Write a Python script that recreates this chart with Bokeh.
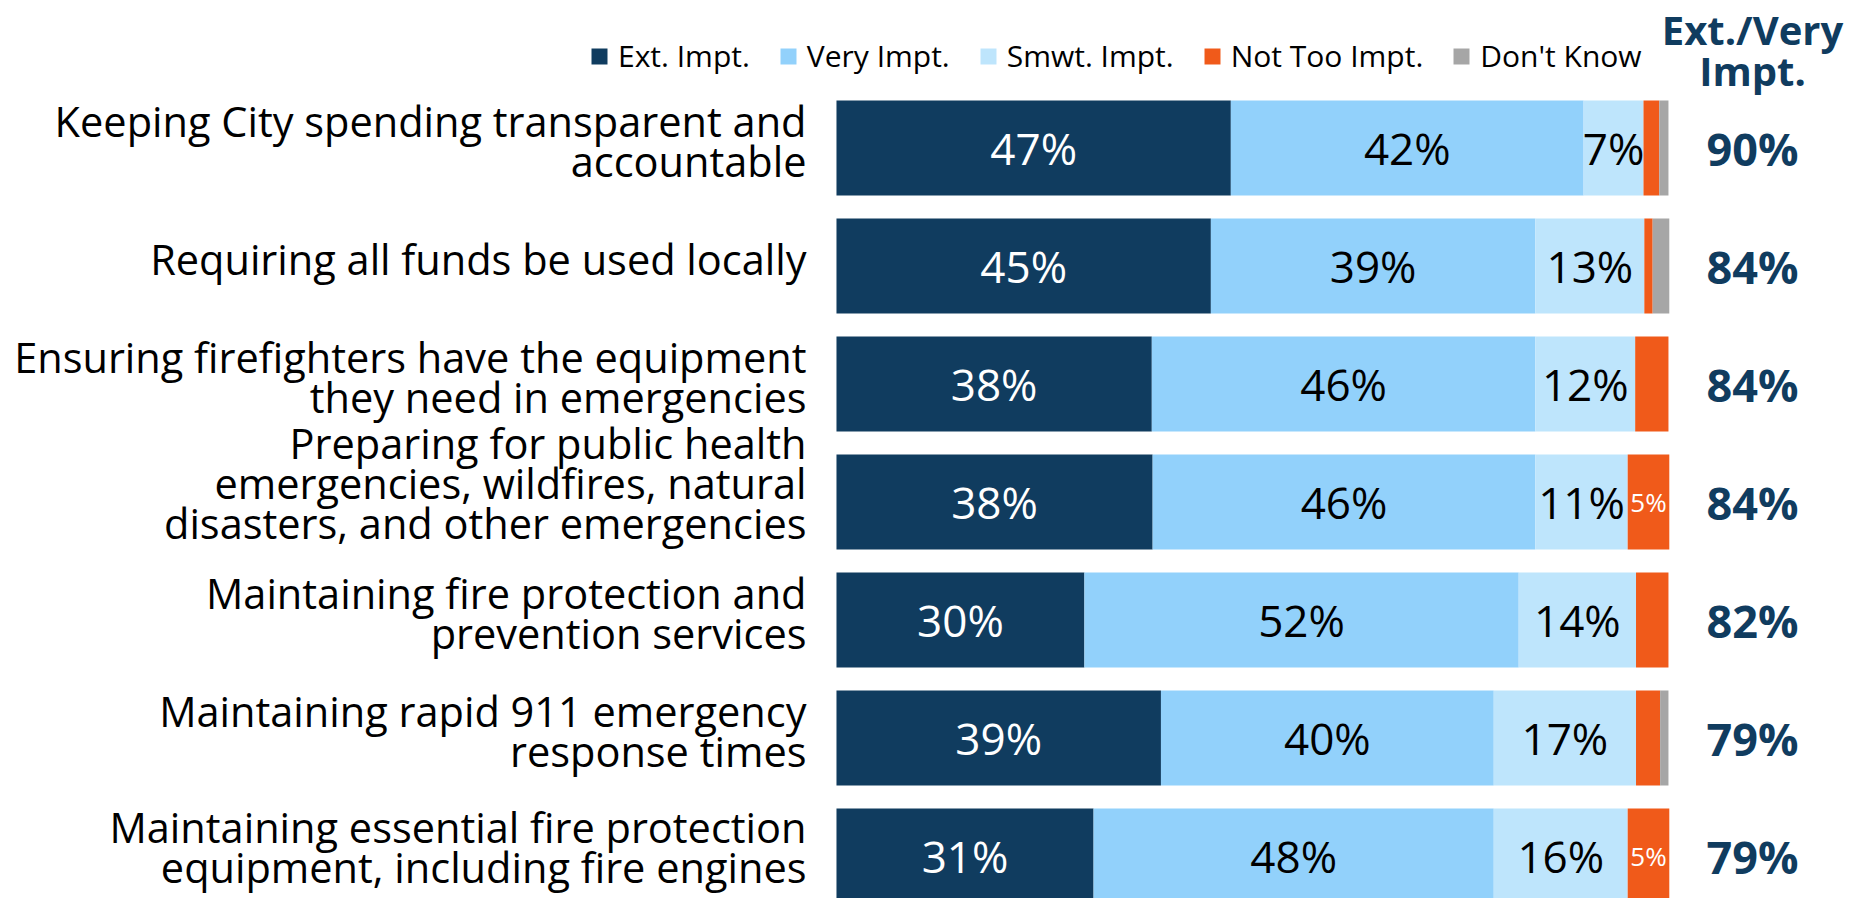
from bokeh.plotting import figure
from bokeh.models import ColumnDataSource, Range1d, Legend, LegendItem
from bokeh.core.properties import value
from bokeh.embed import file_html
from bokeh.resources import INLINE

categories = [
    "Keeping City spending transparent and\naccountable",
    "Requiring all funds be used locally",
    "Ensuring firefighters have the equipment\nthey need in emergencies",
    "Preparing for public health\nemergencies, wildfires, natural\ndisasters, and other emergencies",
    "Maintaining fire protection and\nprevention services",
    "Maintaining rapid 911 emergency\nresponse times",
    "Maintaining essential fire protection\nequipment, including fire engines",
]
series_names = ["Ext. Impt.", "Very Impt.", "Smwt. Impt.", "Not Too Impt.", "Don't Know"]
ext_impt = [47.4, 45.0, 37.9, 38.0, 29.8, 39.0, 30.9]
very_impt = [42.4, 39.0, 46.1, 46.0, 52.2, 40.0, 48.1]
smwt_impt = [7.2, 13.1, 12.0, 11.1, 14.1, 17.1, 16.1]
not_too_impt = [1.9, 1.0, 4.0, 5.0, 3.9, 2.9, 5.0]
dont_know = [1.1, 2.0, 0.0, 0.0, 0.0, 1.0, 0.0]
ext_very_total = [90, 84, 84, 84, 82, 79, 79]
header_text = "Ext./Very\nImpt."

colors = ["#103c5f", "#92d1fb", "#bee5fc", "#f05a1a", "#a6a6a6"]
label_colors = ["white", "black", "black", "white", "white"]
navy = "#103c5f"
FONT = "Open Sans"
label_y_offsets = [-7, -7, -7, -19, -7, -7, -9]

rows = list(range(len(categories)))
keys = ["ext", "very", "smwt", "nott", "dk"]
series = [ext_impt, very_impt, smwt_impt, not_too_impt, dont_know]
data = {"row": rows}
for k, s in zip(keys, series):
    data[k] = s
src = ColumnDataSource(data)

p = figure(width=1851, height=898, output_backend="svg", toolbar_location=None,
           x_range=Range1d(-100.48, 122.0), y_range=Range1d(6.36, -1.25),
           x_axis_type=None, y_axis_type=None, min_border=0,
           outline_line_color=None, background_fill_color="white")
p.grid.visible = False

renderers = p.hbar_stack(keys, y="row", height=0.805, color=colors, source=src,
                         line_color=None)

# segment labels
for si, (k, s) in enumerate(zip(keys, series)):
    xs, ys, ts = [], [], []
    for r in rows:
        left = sum(series[j][r] for j in range(si))
        v = s[r]
        if round(v) >= 5:
            xs.append(left + v / 2)
            ys.append(r)
            ts.append(f"{round(v)}%")
    if not xs:
        continue
    size = "26px" if si == 3 else "44px"
    p.text(x=xs, y=ys, text=ts, text_align="center", text_baseline="middle",
           text_color=label_colors[si], text_font=value(FONT), text_font_size=size)

# category labels
p.text(x=[0] * len(rows), y=rows, text=categories, x_offset=-30, y_offset=label_y_offsets,
       text_align="right", text_baseline="middle", text_color="black",
       text_font=value(FONT), text_font_size="41.5px", text_line_height=0.72)

# right column totals
p.text(x=[110.1] * len(rows), y=rows, text=[f"{v}%" for v in ext_very_total],
       text_align="center", text_baseline="middle", text_color=navy,
       text_font=value(FONT), text_font_size="45px", text_font_style="bold")
p.text(x=[110.1], y=[-0.83], text=[header_text], text_align="center",
       text_baseline="middle", text_color=navy, text_font=value(FONT),
       text_font_size="40px", text_font_style="bold", text_line_height=0.74)

legend = Legend(items=[LegendItem(label=n, renderers=[r]) for n, r in zip(series_names, renderers)],
                orientation="horizontal", location=(589, 822),
                label_text_font=FONT, label_text_font_size="30px", label_text_color="black",
                glyph_width=20, glyph_height=20, label_standoff=9, spacing=28,
                padding=0, margin=0, border_line_color=None,
                background_fill_alpha=0, label_height=20)
p.add_layout(legend)

open("out.html", "w").write(file_html(p, INLINE))
